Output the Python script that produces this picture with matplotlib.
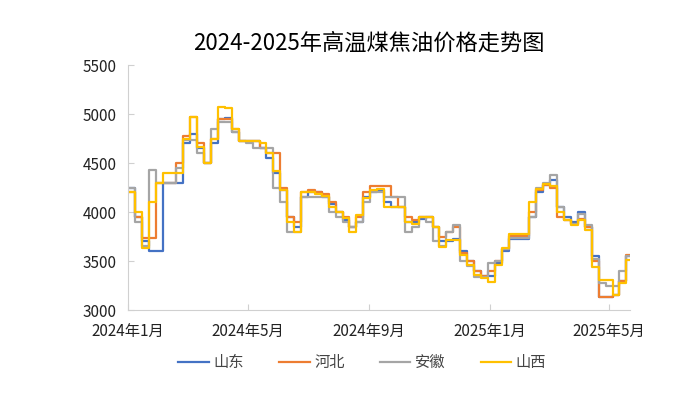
import matplotlib
matplotlib.use("Agg")
import matplotlib.pyplot as plt
import numpy as np
import pandas as pd

plt.rcParams['font.family'] = ['Noto Sans CJK SC', 'DejaVu Sans']

# weekly price points, step chart
dates = pd.date_range("2024-01-01", periods=73, freq="7D")
end_date = pd.Timestamp("2025-05-23")

shandong = [4250, 3950, 3700, 3600, 3600, 4300, 4300, 4300, 4700, 4800,
            4650, 4500, 4700, 4950, 4960, 4820, 4720, 4720, 4720, 4650,
            4550, 4400, 4220, 3950, 3850, 4150, 4200, 4200, 4150, 4080,
            4000, 3920, 3850, 3900, 4150, 4200, 4220, 4100, 4050, 4050,
            3900, 3900, 3930, 3950, 3850, 3700, 3700, 3720, 3600, 3500,
            3400, 3350, 3350, 3480, 3600, 3720, 3720, 3720, 3950, 4200,
            4280, 4330, 4050, 3950, 3900, 4000, 3850, 3550, 3130, 3130,
            3150, 3300, 3550]
hebei = [4200, 3950, 3740, 3740, 4300, 4300, 4300, 4500, 4780, 4970,
         4700, 4500, 4750, 4950, 4950, 4850, 4720, 4720, 4720, 4650,
         4600, 4600, 4250, 3950, 3900, 4200, 4220, 4200, 4180, 4100,
         4000, 3950, 3850, 3950, 4200, 4270, 4270, 4270, 4150, 4050,
         3950, 3920, 3950, 3950, 3850, 3750, 3800, 3850, 3580, 3500,
         3400, 3350, 3400, 3500, 3620, 3760, 3760, 3760, 4000, 4230,
         4280, 4250, 3950, 3920, 3880, 3930, 3850, 3500, 3130, 3130,
         3150, 3300, 3560]
anhui = [4250, 3900, 3650, 4430, 4300, 4300, 4300, 4450, 4740, 4740,
         4600, 4500, 4850, 4920, 4920, 4820, 4720, 4700, 4650, 4650,
         4650, 4250, 4100, 3800, 3800, 4150, 4150, 4150, 4150, 4000,
         3950, 3900, 3850, 3900, 4100, 4200, 4200, 4150, 4150, 4150,
         3800, 3850, 3950, 3900, 3700, 3650, 3800, 3870, 3500, 3450,
         3340, 3340, 3480, 3500, 3620, 3740, 3740, 3740, 3950, 4250,
         4300, 4380, 4050, 3920, 3880, 3980, 3870, 3520, 3280, 3250,
         3250, 3400, 3550]
shanxi = [4200, 4000, 3630, 4100, 4300, 4400, 4400, 4400, 4750, 4970,
          4660, 4500, 4750, 5070, 5060, 4850, 4720, 4720, 4720, 4700,
          4600, 4420, 4220, 3900, 3800, 4200, 4200, 4180, 4160, 4050,
          4000, 3940, 3800, 3970, 4140, 4230, 4240, 4050, 4050, 4050,
          3900, 3880, 3950, 3950, 3850, 3640, 3710, 3710, 3560, 3460,
          3360, 3330, 3290, 3460, 3630, 3775, 3775, 3775, 4100, 4240,
          4290, 4270, 4000, 3920, 3870, 3920, 3820, 3440, 3310, 3310,
          3150, 3280, 3510]

series = [("山东", shandong, "#4472C4"),
          ("河北", hebei, "#ED7D31"),
          ("安徽", anhui, "#A5A5A5"),
          ("山西", shanxi, "#FFC000")]

xticks = ["2024-01-01", "2024-05-01", "2024-09-01", "2025-01-01", "2025-05-01"]
xticklabels = ["2024年1月", "2024年5月", "2024年9月", "2025年1月", "2025年5月"]

fig = plt.figure(figsize=(6.9, 3.94), dpi=100)
ax = fig.add_axes([0.1855, 0.213, 0.728, 0.622])

x_all = list(dates) + [end_date]
for name, vals, color in series:
    ax.step(x_all, list(vals) + [vals[-1]], where="post", color=color, lw=1.6, label=name)

ax.set_xlim(pd.Timestamp("2024-01-01"), end_date)
ax.set_ylim(3000, 5500)
ax.set_yticks(np.arange(3000, 5501, 500))
ax.set_xticks([pd.Timestamp(t) for t in xticks])
ax.set_xticklabels(xticklabels)

for side in ["top", "right"]:
    ax.spines[side].set_visible(False)
for side in ["left", "bottom"]:
    ax.spines[side].set_color("#D0D0D0")
ax.tick_params(direction="in", length=4, color="#D0D0D0", labelsize=11, labelcolor="#222222")
ax.tick_params(axis="x", pad=9)
ax.tick_params(axis="y", pad=8)

fig.text(0.535, 0.89, "2024-2025年高温煤焦油价格走势图", fontsize=16, ha="center", va="center")
fig.legend(loc="center", bbox_to_anchor=(0.525, 0.08), ncol=4, frameon=False,
           fontsize=11, handlelength=2.0, columnspacing=2.3, handletextpad=0.3,
           labelcolor="#444444")

plt.savefig("out.png", dpi=100)
